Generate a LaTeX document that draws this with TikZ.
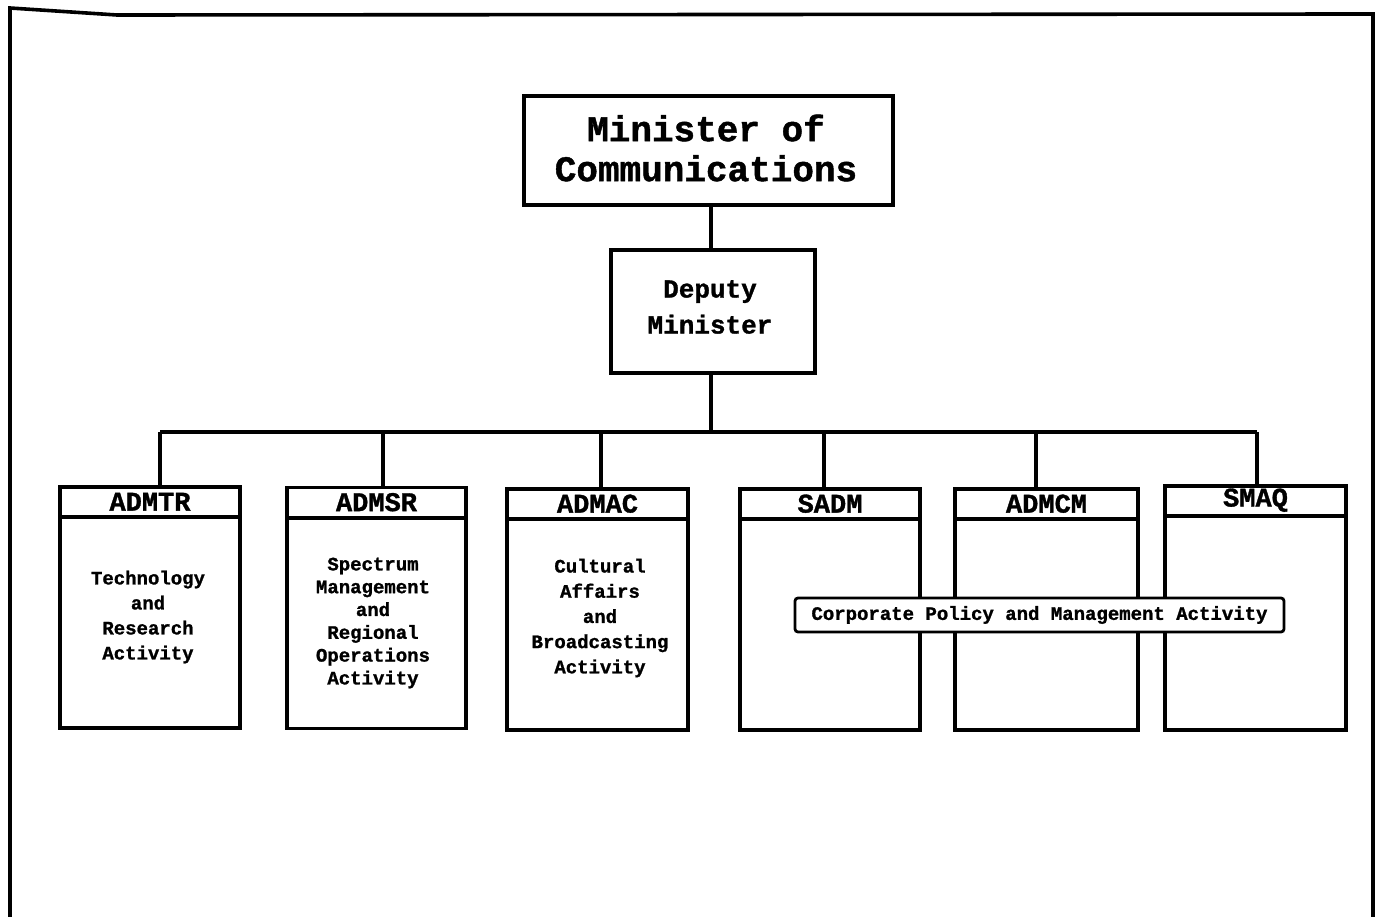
\documentclass[tikz,border=0pt]{standalone}
\usepackage{fontspec}
\setmonofont[BoldFeatures={FakeBold=1.2}]{Liberation Mono}
\begin{document}
\begin{tikzpicture}[x=1pt,y=-1pt,
  line width=3.6pt,
  rankbox/.style={draw, rectangle, inner sep=0pt},
  unitbox/.style={draw, rectangle, inner sep=0pt, minimum width=180, minimum height=241},
  hdr/.style={font=\ttfamily\bfseries\fontsize{27}{27}\selectfont, inner sep=0pt},
  body/.style={font=\ttfamily\bfseries\fontsize{19}{24.5}\selectfont, align=center, inner sep=0pt},
  tag/.style={draw, rounded corners=3pt, line width=2.8pt, inner sep=0pt, minimum width=489, minimum height=34, fill=white,
    font=\ttfamily\bfseries\fontsize{19}{19}\selectfont}]
\useasboundingbox (0,0) rectangle (1379,917);

% page frame
\draw (10,917) -- (10,8) -- (117,15) -- (1373,14) -- (1373,917);

% top of the hierarchy
\node[rankbox, minimum width=369, minimum height=109] (min) at (708.5,150.5) {};
\node[font=\ttfamily\bfseries\fontsize{36}{40}\selectfont, align=center, inner sep=0pt] (mint) at (706,148) {Minister of\\Communications};
\node[rankbox, minimum width=204, minimum height=123] (dep) at (713,311.5) {};
\node[font=\ttfamily\bfseries\fontsize{26}{36}\selectfont, align=center, inner sep=0pt] (dept) at (710,307) {Deputy\\Minister};

% units
\node[unitbox] (tr) at (150,607.5) {};
\node[unitbox, minimum width=179] (sr) at (376.5,608) {};
\node[unitbox, minimum width=181] (ac) at (597.5,609.5) {};
\node[unitbox] (sa) at (830,609.5) {};
\node[unitbox, minimum width=183] (cm) at (1046.5,609.5) {};
\node[unitbox, minimum width=181, minimum height=244] (mq) at (1255.5,608) {};

% header rules
\foreach \b in {tr,sr,ac,sa,cm,mq}
  \draw ([yshift=-32]\b.north west) -- ([yshift=-32]\b.north east);

% unit headers
\node[hdr] (trh) at ([yshift=-16.5]tr.north) {ADMTR};
\node[hdr] (srh) at ([yshift=-16.5]sr.north) {ADMSR};
\node[hdr] (ach) at ([yshift=-16.5]ac.north) {ADMAC};
\node[hdr] (sah) at ([yshift=-16.5]sa.north) {SADM};
\node[hdr] (cmh) at ([yshift=-16.5]cm.north) {ADMCM};
\node[hdr] (mqh) at ([yshift=-16]mq.north) {SMAQ};

% unit descriptions
\node[body, font=\ttfamily\bfseries\fontsize{19}{25}\selectfont] (trb) at (148,617) {Technology\\and\\Research\\Activity};
\node[body, font=\ttfamily\bfseries\fontsize{19}{22.8}\selectfont] (srb) at (373,623) {Spectrum\\Management\\and\\Regional\\Operations\\Activity};
\node[body, font=\ttfamily\bfseries\fontsize{19}{25.2}\selectfont] (acb) at (600,618) {Cultural\\Affairs\\and\\Broadcasting\\Activity};

% reporting lines
\coordinate (bus) at (711,432);
\draw (min.south -| bus) -- (dep.north -| bus);
\draw (dep.south -| bus) -- (bus);
\foreach \b/\x in {tr/160,sr/383,ac/601,sa/824,cm/1036,mq/1257}
  \draw (\x,432) -- (\x,432 |- \b.north);
\draw (160,432) -- (1257,432);

% shared activity label spanning three units
\node[tag] (corp) at (1039.5,615) {Corporate Policy and Management Activity};
\end{tikzpicture}
\end{document}
